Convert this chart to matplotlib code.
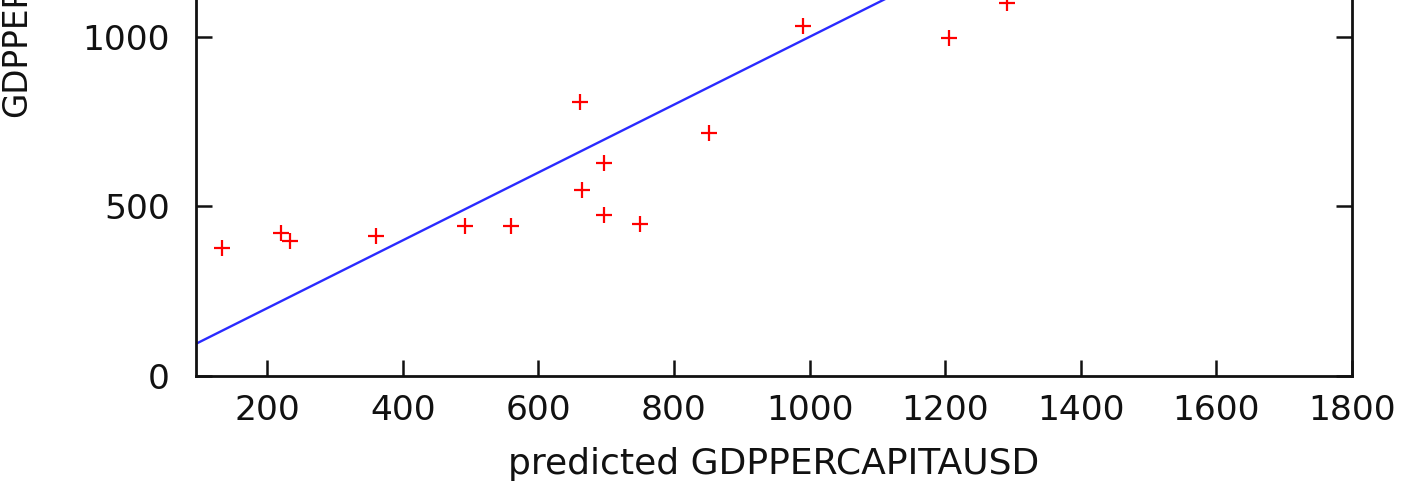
import numpy as np
import matplotlib
matplotlib.use('Agg')
import matplotlib.pyplot as plt

predicted = [134, 220, 234, 360, 492, 560, 661, 664, 697, 697, 750, 852, 990, 1206, 1291]
actual = [377, 421, 398, 413, 443, 442, 807, 548, 627, 474, 448, 715, 1031, 997, 1100]

xticks = [200, 400, 600, 800, 1000, 1200, 1400, 1600, 1800]
yticks = [0, 500, 1000]

W, H = 1404, 486
fig = plt.figure(figsize=(W / 100, H / 100), dpi=100)

# axes run above the top edge of the picture (the reference is cropped)
left, right, bottom = 196 / W, 1352 / W, 1 - 376 / H
top = 1 + 31 / H
ax = fig.add_axes([left, bottom, right - left, top - bottom])

ax.set_xlim(95, 1800)
ax.set_ylim(0, 1200)

# y = x reference line
line_x = np.array([95, 1800])
ax.plot(line_x, line_x, color='#2a2aff', lw=1.7, zorder=2)

ax.plot(predicted, actual, '+', color='red', ms=11, mew=1.6, zorder=3)

ax.set_xticks(xticks)
ax.set_yticks(yticks)
ax.tick_params(direction='in', length=11.5, width=1.8, labelsize=24.8,
               top=True, right=True, color='#111111', labelcolor='#111111')
ax.tick_params(axis='y', pad=19)
ax.tick_params(axis='x', pad=13)
for s in ax.spines.values():
    s.set_linewidth(2.0)
    s.set_color('#111111')

ax.set_xlabel('predicted GDPPERCAPITAUSD', fontsize=26, labelpad=14, color='#111111')
fig.text(17 / W, 1 - 117 / H, 'GDPPERCAPITAUSD', rotation=90, fontsize=23.5,
         ha='center', va='bottom', color='#111111')

fig.savefig('out.png', dpi=100)
